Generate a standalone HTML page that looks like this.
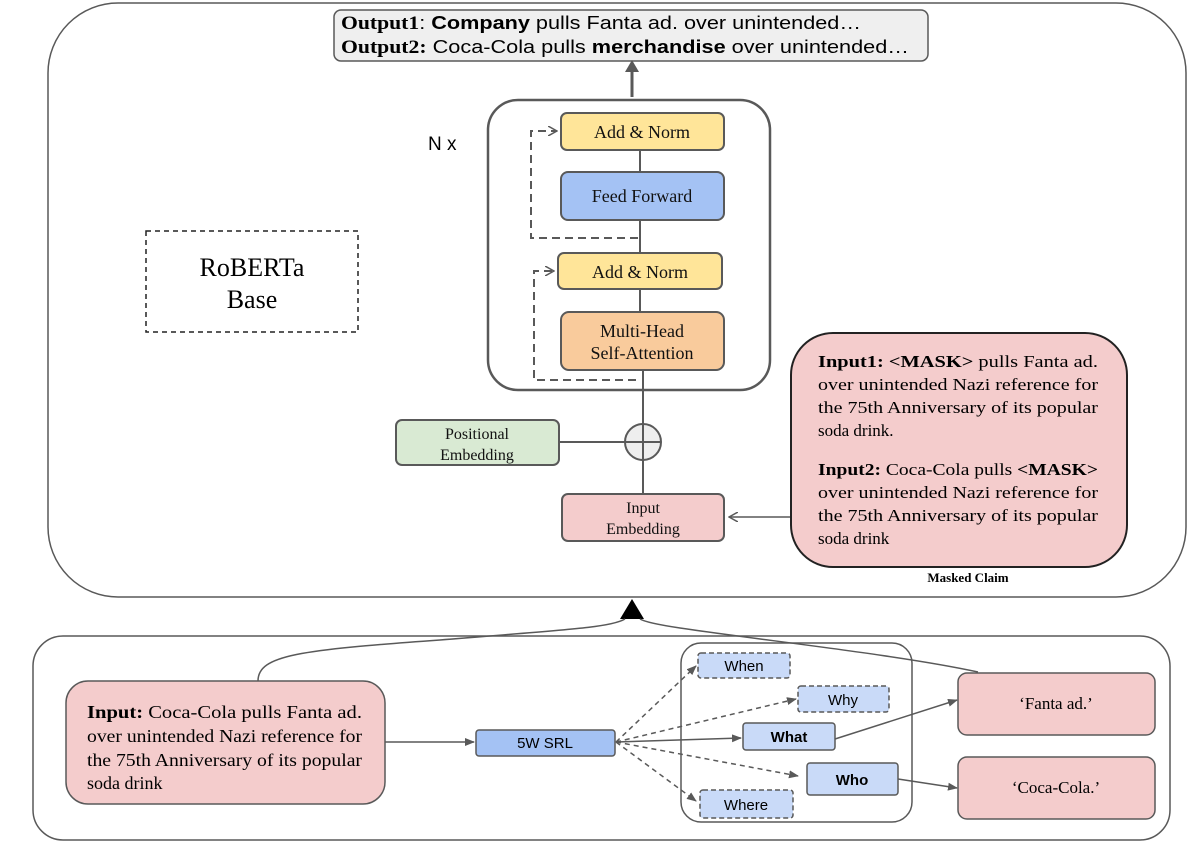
<!DOCTYPE html>
<html><head><meta charset="utf-8"><style>
html,body{margin:0;padding:0;background:#fff;}
svg{display:block;}
.s{font-family:"Liberation Serif",serif;}
.a{font-family:"Liberation Sans",sans-serif;}
</style></head><body>
<svg width="1196" height="852" viewBox="0 0 1196 852" xmlns="http://www.w3.org/2000/svg">
<defs>
<marker id="ar" markerWidth="10" markerHeight="8" refX="9" refY="4" orient="auto" markerUnits="userSpaceOnUse"><path d="M0,0 L10,4 L0,8 z" fill="#595959"/></marker>
<marker id="ao" markerWidth="10" markerHeight="10" refX="9" refY="5" orient="auto" markerUnits="userSpaceOnUse"><path d="M0,0 L9,5 L0,10" fill="none" stroke="#595959" stroke-width="1.5"/></marker>
</defs>
<g stroke="#595959" fill="none" stroke-width="1.5">
<rect x="48" y="3" width="1138" height="594" rx="70"/>
<rect x="33" y="636" width="1137" height="204" rx="30"/>
</g>
<rect x="334" y="10" width="594" height="51" rx="7" fill="#efefef" stroke="#595959" stroke-width="1.5"/>
<text x="341" y="29" font-size="18.5" class="s" textLength="520" lengthAdjust="spacingAndGlyphs"><tspan font-weight="bold">Output1</tspan><tspan font-family="Liberation Sans,sans-serif">: <tspan font-weight="bold">Company</tspan> pulls Fanta ad. over unintended…</tspan></text>
<text x="341" y="53" font-size="18.5" class="s" textLength="568" lengthAdjust="spacingAndGlyphs"><tspan font-weight="bold">Output2:</tspan><tspan font-family="Liberation Sans,sans-serif"> Coca-Cola pulls <tspan font-weight="bold">merchandise</tspan> over unintended…</tspan></text>
<line x1="632" y1="97" x2="632" y2="66" stroke="#595959" stroke-width="3"/>
<path d="M625,72 L632,60 L639,72 z" fill="#595959"/>
<rect x="488" y="100" width="282" height="290" rx="30" fill="none" stroke="#595959" stroke-width="2.5"/>
<text x="428" y="150" font-size="19" class="a">N x</text>
<g stroke="#595959" stroke-width="2">
<line x1="640" y1="150" x2="640" y2="172"/>
<line x1="640" y1="220" x2="640" y2="253"/>
<line x1="640" y1="289" x2="640" y2="312"/>
<line x1="643" y1="370" x2="643" y2="494"/>
<line x1="559" y1="442" x2="643" y2="442"/>
</g>
<g stroke="#595959" stroke-width="2" fill="none" stroke-dasharray="8,5">
<path d="M638,238 L531,238 L531,131 L557,131" marker-end="url(#ao)"/>
<path d="M636,380 L534,380 L534,271 L554,271" marker-end="url(#ao)"/>
</g>
<g stroke="#595959" stroke-width="2">
<rect x="561" y="113" width="163" height="37" rx="6" fill="#ffe599"/>
<rect x="561" y="172" width="163" height="48" rx="7" fill="#a4c2f4"/>
<rect x="558" y="253" width="164" height="36" rx="6" fill="#ffe599"/>
<rect x="561" y="312" width="163" height="58" rx="8" fill="#f9cb9c"/>
<rect x="396" y="420" width="163" height="45" rx="6" fill="#d9ead3"/>
<rect x="562" y="494" width="162" height="47" rx="6" fill="#f4cccc"/>
</g>
<circle cx="643" cy="442" r="18" fill="#eeeeee" stroke="#595959" stroke-width="2"/>
<line x1="625" y1="442" x2="661" y2="442" stroke="#595959" stroke-width="2"/>
<line x1="643" y1="424" x2="643" y2="460" stroke="#595959" stroke-width="2"/>
<g class="s" font-size="18" text-anchor="middle" fill="#111">
<text x="642" y="138">Add &amp; Norm</text>
<text x="642" y="202">Feed Forward</text>
<text x="640" y="278">Add &amp; Norm</text>
<text x="642" y="337">Multi-Head</text>
<text x="642" y="359">Self-Attention</text>
<text x="477" y="439" font-size="16">Positional</text>
<text x="477" y="460" font-size="16">Embedding</text>
<text x="643" y="513" font-size="16">Input</text>
<text x="643" y="534" font-size="16">Embedding</text>
</g>
<rect x="146" y="231" width="212" height="101" fill="none" stroke="#222" stroke-width="1.5" stroke-dasharray="5,4"/>
<text x="252" y="276" class="s" font-size="26" text-anchor="middle">RoBERTa</text>
<text x="252" y="308" class="s" font-size="26" text-anchor="middle">Base</text>
<rect x="791" y="333" width="336" height="234" rx="42" fill="#f4cccc" stroke="#222" stroke-width="2"/>
<g class="s" font-size="17">
<text x="818" y="367" textLength="280" lengthAdjust="spacingAndGlyphs"><tspan font-weight="bold">Input1: &lt;MASK&gt;</tspan> pulls Fanta ad.</text>
<text x="818" y="390" textLength="280" lengthAdjust="spacingAndGlyphs">over unintended Nazi reference  for</text>
<text x="818" y="413" textLength="280" lengthAdjust="spacingAndGlyphs">the 75th Anniversary of its popular</text>
<text x="818" y="436">soda drink.</text>
<text x="818" y="475" textLength="280" lengthAdjust="spacingAndGlyphs"><tspan font-weight="bold">Input2:</tspan> Coca-Cola pulls <tspan font-weight="bold">&lt;MASK&gt;</tspan></text>
<text x="818" y="498" textLength="280" lengthAdjust="spacingAndGlyphs">over unintended Nazi reference  for</text>
<text x="818" y="521" textLength="280" lengthAdjust="spacingAndGlyphs">the 75th Anniversary of its popular</text>
<text x="818" y="544">soda drink</text>
</g>
<text x="968" y="582" class="s" font-size="13" font-weight="bold" text-anchor="middle">Masked Claim</text>
<line x1="790" y1="517" x2="729" y2="517" stroke="#595959" stroke-width="1.5" marker-end="url(#ao)"/>
<path d="M620,619 L632,599 L644,619 z" fill="#000"/>
<path d="M258,681 C258,655 300,650 440,640 C560,630 610,628 625,619" fill="none" stroke="#595959" stroke-width="1.5"/>
<path d="M978,672 C900,655 760,640 680,628 C660,625 645,622 640,619" fill="none" stroke="#595959" stroke-width="1.5"/>
<rect x="66" y="681" width="319" height="123" rx="22" fill="#f4cccc" stroke="#595959" stroke-width="1.5"/>
<g class="s" font-size="18">
<text x="87" y="718" textLength="275" lengthAdjust="spacingAndGlyphs"><tspan font-weight="bold">Input:</tspan> Coca-Cola pulls Fanta ad.</text>
<text x="87" y="742" textLength="275" lengthAdjust="spacingAndGlyphs">over unintended Nazi reference  for</text>
<text x="87" y="766" textLength="275" lengthAdjust="spacingAndGlyphs">the 75th Anniversary of its popular</text>
<text x="87" y="789">soda drink</text>
</g>
<line x1="385" y1="742" x2="474" y2="742" stroke="#595959" stroke-width="1.5" marker-end="url(#ar)"/>
<rect x="476" y="730" width="139" height="26" rx="3" fill="#a4c2f4" stroke="#595959" stroke-width="1.5"/>
<text x="545" y="748" class="a" font-size="15" text-anchor="middle">5W SRL</text>
<rect x="681" y="643" width="231" height="179" rx="20" fill="none" stroke="#595959" stroke-width="1.5"/>
<g stroke="#595959" stroke-width="1.5" fill="none">
<line x1="616" y1="742" x2="741" y2="738" marker-end="url(#ar)"/>
<g stroke-dasharray="5,4">
<line x1="616" y1="742" x2="696" y2="666" marker-end="url(#ar)"/>
<line x1="616" y1="742" x2="796" y2="699" marker-end="url(#ar)"/>
<line x1="616" y1="742" x2="798" y2="776" marker-end="url(#ar)"/>
<line x1="616" y1="742" x2="696" y2="801" marker-end="url(#ar)"/>
</g>
<line x1="835" y1="739" x2="957" y2="700" marker-end="url(#ar)"/>
<line x1="898" y1="779" x2="957" y2="788" marker-end="url(#ar)"/>
</g>
<g stroke="#595959" stroke-width="1.5" fill="#c9daf8">
<rect x="698" y="653" width="92" height="25" rx="3" stroke-dasharray="5,3"/>
<rect x="798" y="686" width="91" height="26" rx="3" stroke-dasharray="5,3"/>
<rect x="743" y="723" width="92" height="27" rx="3"/>
<rect x="807" y="763" width="91" height="32" rx="3"/>
<rect x="700" y="790" width="93" height="28" rx="3" stroke-dasharray="5,3"/>
</g>
<g class="a" font-size="15" text-anchor="middle">
<text x="744" y="671">When</text>
<text x="843" y="705">Why</text>
<text x="789" y="742" font-weight="bold">What</text>
<text x="852" y="785" font-weight="bold">Who</text>
<text x="746" y="810">Where</text>
</g>
<rect x="958" y="673" width="197" height="62" rx="9" fill="#f4cccc" stroke="#595959" stroke-width="1.5"/>
<rect x="958" y="757" width="197" height="62" rx="9" fill="#f4cccc" stroke="#595959" stroke-width="1.5"/>
<text x="1056" y="709" class="s" font-size="17" text-anchor="middle">‘Fanta ad.’</text>
<text x="1056" y="793" class="s" font-size="17" text-anchor="middle">‘Coca-Cola.’</text>
</svg>
</body></html>
